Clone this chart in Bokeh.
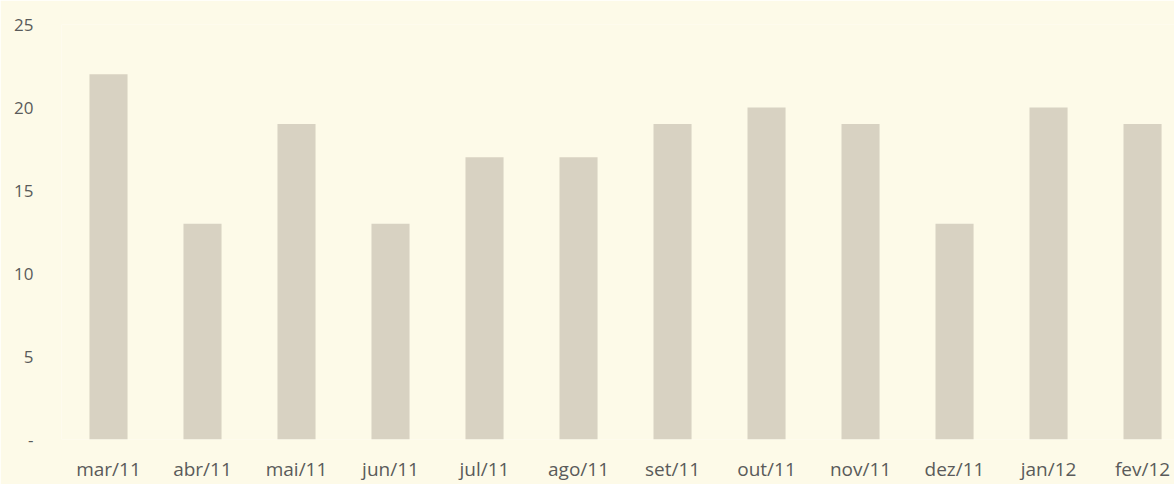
from bokeh.plotting import figure
from bokeh.models import Range1d, FixedTicker
from bokeh.embed import file_html
from bokeh.resources import INLINE

categories = ["mar/11", "abr/11", "mai/11", "jun/11", "jul/11", "ago/11",
              "set/11", "out/11", "nov/11", "dez/11", "jan/12", "fev/12"]
values = [22, 13, 19, 13, 17, 17, 19, 20, 19, 13, 20, 19]
y_ticks = [0, 5, 10, 15, 20, 25]
y_labels = ["-", "5", "10", "15", "20", "25"]

xs = list(range(len(categories)))
bg = "#FDFAE8"

p = figure(width=1174, height=484, output_backend="svg", toolbar_location=None,
           x_range=Range1d(-0.5, len(categories) - 0.66), y_range=Range1d(0, 25),
           min_border_left=61, min_border_right=0, min_border_top=24, min_border_bottom=43,
           background_fill_color=bg, border_fill_color=bg, outline_line_color=None)

p.vbar(x=xs, top=values, width=0.405, bottom=0, fill_color="#D8D2C2", line_color=None)

p.xgrid.grid_line_color = None
p.ygrid.grid_line_color = None

p.xaxis.ticker = FixedTicker(ticks=xs)
p.xaxis.major_label_overrides = {i: c for i, c in zip(xs, categories)}
p.yaxis.ticker = FixedTicker(ticks=y_ticks)
p.yaxis.major_label_overrides = {t: l for t, l in zip(y_ticks, y_labels)}

for ax in (p.xaxis, p.yaxis):
    ax.axis_line_color = None
    ax.major_tick_line_color = None
    ax.minor_tick_line_color = None
    ax.major_tick_out = 0
    ax.major_tick_in = 0
    ax.major_label_text_font = "Open Sans"
    ax.major_label_text_color = "#5A5A5A"

p.xaxis.major_label_text_font_size = "19px"
p.yaxis.major_label_text_font_size = "17px"
p.xaxis.major_label_standoff = 16
p.yaxis.major_label_standoff = 28

open("out.html", "w").write(file_html(p, INLINE))
